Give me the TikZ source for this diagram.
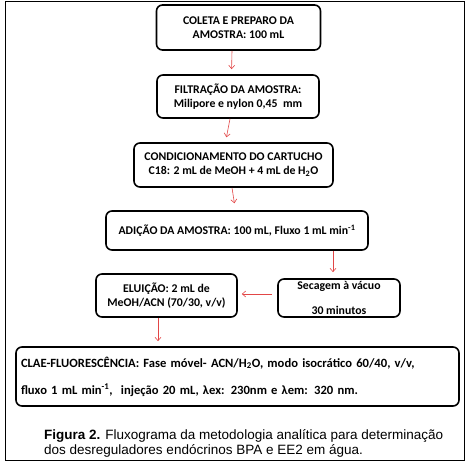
\documentclass[tikz,border=0pt]{standalone}
\usepackage{fontspec}
\setmainfont{Carlito}
\newfontfamily\capfont{Liberation Sans}
\usetikzlibrary{arrows.meta}
\definecolor{arrred}{RGB}{226,70,70}
\tikzset{
  box/.style={draw=black, line width=1.6pt, rounded corners=6pt, fill=white,
    inner sep=0pt, align=center, font=\fontsize{11.8}{14}\selectfont\bfseries},
  arr/.style={draw=arrred, line width=0.6pt, -{Straight Barb[length=3.5pt,width=6pt]}},
}
\begin{document}
\begin{tikzpicture}[x=1pt,y=-1pt]
\useasboundingbox (0,0) rectangle (469,465);
\draw[line width=0.9pt] (5,1.5) rectangle (464,460);
\node[box, minimum width=164pt, minimum height=45pt] (b1) at (238.5,27.5) {COLETA E PREPARO DA\\AMOSTRA: 100 mL};
\node[box, minimum width=162pt, minimum height=43pt] (b2) at (238,96.5) {FILTRAÇÃO DA AMOSTRA:\\Milipore e nylon 0,45\ \ mm};
\node[box, minimum width=199pt, minimum height=44pt] (b3) at (233.5,165) {CONDICIONAMENTO DO CARTUCHO\\C18: 2 mL de MeOH + 4 mL de H\textsubscript{2}O};
\node[box, minimum width=262pt, minimum height=39pt] (b4) at (237,230.5) {ADIÇÃO DA AMOSTRA: 100 mL, Fluxo 1 mL min\textsuperscript{-1}};
\node[box, minimum width=122pt, minimum height=38pt, font=\fontsize{11.8}{12.5}\selectfont\bfseries] (b5) at (339,298) {Secagem à vácuo\\[12.5pt]30 minutos};
\node[box, minimum width=141pt, minimum height=43pt] (b6) at (166.5,295.5) {ELUIÇÃO: 2 mL de\\MeOH/ACN (70/30, v/v)};
\node[box, minimum width=443pt, minimum height=59pt, align=left, text width=433pt, font=\fontsize{12.6}{27}\selectfont\bfseries] (b7) at (237.5,376.5) {CLAE-FLUORESCÊNCIA: Fase móvel- ACN/H\textsubscript{2}O, modo isocrático 60/40, v/v,\\fluxo 1 mL min\textsuperscript{-1},\ \ injeção 20 mL, λex: 230nm e λem: 320 nm.};
\node[anchor=north west, inner sep=0pt, align=left, font=\capfont\fontsize{13.5}{15}\selectfont] (cap) at (44,429) {\textbf{Figura 2.} Fluxograma da metodologia analítica para determinação\\dos desreguladores endócrinos BPA e EE2 em água.};
\draw[arr, shorten >=5pt] ([xshift=-6.5pt]b1.south) -- ([xshift=-6.5pt]b2.north);
\draw[arr, shorten >=5pt] ([xshift=-8pt]b2.south) -- ([xshift=-8pt]b3.north);
\draw[arr, shorten >=7pt] ([xshift=-1.5pt]b3.south) -- ([xshift=-1.5pt]b4.north);
\draw[arr, shorten >=6pt] ([xshift=96pt]b4.south) -- ([xshift=96pt]b4.south |- b5.north);
\draw[arr, shorten <=5pt, shorten >=4pt] ([yshift=4pt]b5.west) -- ([yshift=4pt]b5.west -| b6.east);
\draw[arr, shorten >=5pt] ([xshift=-8.5pt]b6.south) -- ([xshift=-8.5pt]b6.south |- b7.north);
\end{tikzpicture}
\end{document}
